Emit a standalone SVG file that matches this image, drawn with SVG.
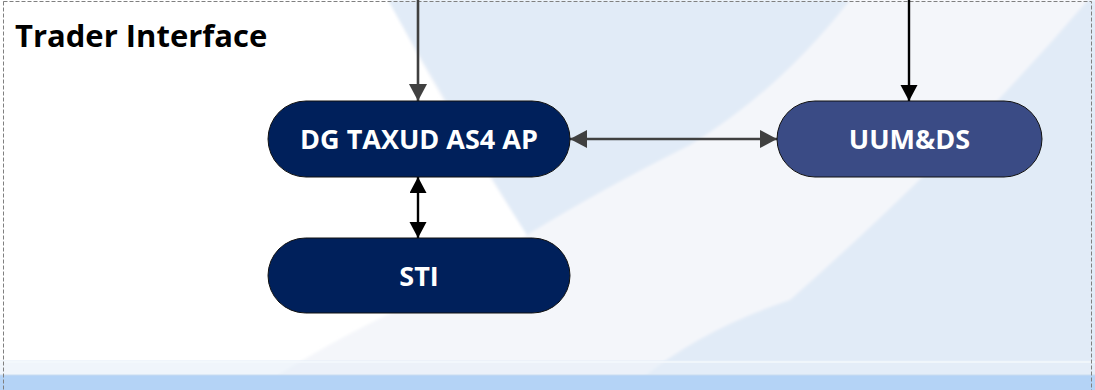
<svg xmlns="http://www.w3.org/2000/svg" width="1095" height="390" viewBox="0 0 1095 390">
  <style>
    .node-dark { fill: #00205b; stroke: #111; stroke-width: 1; }
    .node-mid { fill: #3a4b85; stroke: #111; stroke-width: 1; }
    .label { font-family: "Open Sans", "Noto Sans", sans-serif; font-weight: 700; font-size: 27px; fill: #ffffff; text-anchor: middle; }
    .title { font-family: "Open Sans", "Noto Sans", sans-serif; font-weight: 700; font-size: 31px; fill: #000000; }
    .conn-gray { stroke: #404040; stroke-width: 2.6; fill: none; }
    .conn-black { stroke: #000000; stroke-width: 2.4; fill: none; }
  </style>
  <defs>
    <marker id="arrGray" markerUnits="userSpaceOnUse" markerWidth="18" markerHeight="18" refX="17" refY="9" orient="auto-start-reverse">
      <path d="M0,0 L17,9 L0,18 Z" fill="#404040"/>
    </marker>
    <marker id="arrBlack" markerUnits="userSpaceOnUse" markerWidth="18" markerHeight="18" refX="16" refY="8.5" orient="auto-start-reverse">
      <path d="M0,0 L16,8.5 L0,17 Z" fill="#000000"/>
    </marker>
    <filter id="soft" x="-5%" y="-5%" width="110%" height="110%">
      <feGaussianBlur stdDeviation="1.5"/>
    </filter>
  </defs>

  <!-- background -->
  <g id="background">
    <rect x="0" y="0" width="1095" height="390" fill="#ffffff"/>
    <g filter="url(#soft)">
      <path d="M388,0 L1100,0 L1100,380 L270,380 Q350,330 420,300 Q490,265 527,235 Q450,120 388,0 Z" fill="#f4f6fa"/>
      <path d="M388,0 L850,0 Q780,90 690,145 Q600,190 527,235 Q455,120 388,0 Z" fill="#e1ebf7"/>
      <path d="M1088,0 L1100,0 L1100,380 L640,380 Q700,330 790,300 Q960,150 1088,0 Z" fill="#e1ebf7"/>
    </g>
    <rect x="0" y="360" width="1095" height="15" fill="#e6eff9" opacity="0.6"/>
    <line x1="0" y1="362" x2="1095" y2="362" stroke="#f4f8fc" stroke-width="1.5"/>
    <rect x="0" y="375" width="1095" height="15" fill="#b4d3f6"/>
    <line x1="0" y1="375" x2="1095" y2="375" stroke="#c9dcf0" stroke-width="1"/>
  </g>

  <!-- container border and title -->
  <rect x="3.5" y="1.5" width="1088" height="420" fill="none" stroke="#808080" stroke-width="1" stroke-dasharray="4,2"/>
  <text class="title" x="15" y="46.5">Trader Interface</text>

  <!-- connectors -->
  <g id="connectors">
    <line class="conn-gray" x1="418" y1="0" x2="418" y2="101" marker-end="url(#arrGray)"/>
    <line class="conn-black" x1="909" y1="0" x2="909" y2="101" marker-end="url(#arrBlack)"/>
    <line class="conn-gray" x1="570" y1="139" x2="777" y2="139" marker-start="url(#arrGray)" marker-end="url(#arrGray)"/>
    <line class="conn-black" x1="418" y1="177" x2="418" y2="238" marker-start="url(#arrBlack)" marker-end="url(#arrBlack)"/>
  </g>

  <!-- nodes -->
  <g id="node-dg-taxud">
    <rect class="node-dark" x="268" y="101" width="302" height="76" rx="38" ry="38"/>
    <text class="label" x="419" y="148.5">DG TAXUD AS4 AP</text>
  </g>
  <g id="node-uumds">
    <rect class="node-mid" x="777" y="101" width="265" height="76" rx="38" ry="38"/>
    <text class="label" x="909.5" y="148.5">UUM&amp;DS</text>
  </g>
  <g id="node-sti">
    <rect class="node-dark" x="268" y="238" width="302" height="75" rx="37.5" ry="37.5"/>
    <text class="label" x="419" y="285.5">STI</text>
  </g>
</svg>
